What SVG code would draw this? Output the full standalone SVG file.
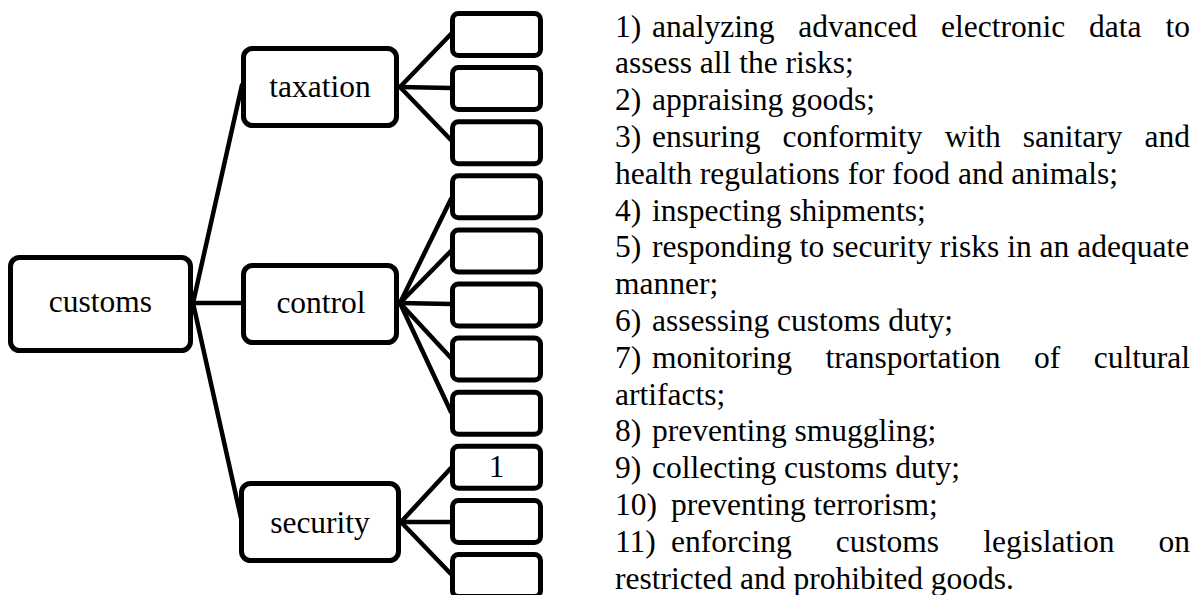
<svg xmlns="http://www.w3.org/2000/svg" width="1201" height="595" viewBox="0 0 1201 595">
<style>
.box{fill:#fff;stroke:#000;stroke-width:5}
.lbl{font-size:31.5px;fill:#000}
.mid{text-anchor:middle}
.con line{stroke:#000;stroke-width:4.5;stroke-linecap:round}
</style>
<rect width="1201" height="595" fill="#fff"/>
<g class="con" id="connectors">
<line x1="193" y1="303" x2="242" y2="85"/>
<line x1="193" y1="303" x2="242" y2="303"/>
<line x1="193" y1="303" x2="241" y2="518"/>
<line x1="400" y1="87" x2="451" y2="34"/>
<line x1="400" y1="87" x2="451" y2="88"/>
<line x1="400" y1="87" x2="451" y2="140"/>
<line x1="400" y1="303" x2="451" y2="199"/>
<line x1="400" y1="303" x2="451" y2="251"/>
<line x1="400" y1="303" x2="451" y2="304"/>
<line x1="400" y1="303" x2="451" y2="358"/>
<line x1="400" y1="303" x2="451" y2="412"/>
<line x1="401" y1="522" x2="451" y2="468"/>
<line x1="401" y1="522" x2="451" y2="522"/>
<line x1="401" y1="522" x2="451" y2="574"/>
</g>
<g font-family="'Liberation Serif', 'DejaVu Serif', serif">
<g id="customs"><rect class="box" x="10.5" y="257.5" width="180" height="93" rx="9"/><text class="lbl mid" x="100.5" y="312">customs</text></g>
<g id="taxation"><rect class="box" x="243.5" y="48.5" width="153" height="77" rx="9"/><text class="lbl mid" x="320" y="97">taxation</text></g>
<g id="control"><rect class="box" x="243.5" y="265.5" width="153" height="77" rx="9"/><text class="lbl mid" x="321" y="313">control</text></g>
<g id="security"><rect class="box" x="241.5" y="483.5" width="157" height="77" rx="9"/><text class="lbl mid" x="320" y="533">security</text></g>
<g id="b1"><rect class="box" x="452.5" y="13.5" width="88" height="42" rx="6"/></g>
<g id="b2"><rect class="box" x="452.5" y="67.6" width="88" height="42" rx="6"/></g>
<g id="b3"><rect class="box" x="452.5" y="121.7" width="88" height="42" rx="6"/></g>
<g id="b4"><rect class="box" x="452.5" y="175.8" width="88" height="42" rx="6"/></g>
<g id="b5"><rect class="box" x="452.5" y="229.9" width="88" height="42" rx="6"/></g>
<g id="b6"><rect class="box" x="452.5" y="284" width="88" height="42" rx="6"/></g>
<g id="b7"><rect class="box" x="452.5" y="338.1" width="88" height="42" rx="6"/></g>
<g id="b8"><rect class="box" x="452.5" y="392.2" width="88" height="42" rx="6"/></g>
<g id="b9"><rect class="box" x="452.5" y="446.3" width="88" height="42" rx="6"/><text class="lbl mid" x="496.5" y="477">1</text></g>
<g id="b10"><rect class="box" x="452.5" y="500.4" width="88" height="42" rx="6"/></g>
<g id="b11"><rect class="box" x="452.5" y="554.5" width="88" height="42" rx="6"/></g>
<g id="list" class="lbl">
<text y="36.5"><tspan x="615">1)</tspan><tspan x="652">analyzing</tspan><tspan x="798.3">advanced</tspan><tspan x="941.1">electronic</tspan><tspan x="1089.1">data</tspan><tspan x="1165.5">to</tspan></text>
<text y="73.3" x="615">assess all the risks;</text>
<text y="110.1"><tspan x="615">2)</tspan><tspan x="652">appraising goods;</tspan></text>
<text y="146.9"><tspan x="615">3)</tspan><tspan x="652">ensuring</tspan><tspan x="782.6">conformity</tspan><tspan x="944.7">with</tspan><tspan x="1022.8">sanitary</tspan><tspan x="1144.6">and</tspan></text>
<text y="183.7" x="615">health regulations for food and animals;</text>
<text y="220.5"><tspan x="615">4)</tspan><tspan x="652">inspecting shipments;</tspan></text>
<text y="257.3"><tspan x="615">5)</tspan><tspan x="652">responding to security risks in an adequate</tspan></text>
<text y="294.1" x="615">manner;</text>
<text y="330.9"><tspan x="615">6)</tspan><tspan x="652">assessing customs duty;</tspan></text>
<text y="367.7"><tspan x="615">7)</tspan><tspan x="652">monitoring</tspan><tspan x="825.5">transportation</tspan><tspan x="1034">of</tspan><tspan x="1093.7">cultural</tspan></text>
<text y="404.5" x="615">artifacts;</text>
<text y="441.3"><tspan x="615">8)</tspan><tspan x="652">preventing smuggling;</tspan></text>
<text y="478.1"><tspan x="615">9)</tspan><tspan x="652">collecting customs duty;</tspan></text>
<text y="514.9"><tspan x="615">10)</tspan><tspan x="671">preventing terrorism;</tspan></text>
<text y="551.7"><tspan x="615">11)</tspan><tspan x="671">enforcing</tspan><tspan x="835.8">customs</tspan><tspan x="983.2">legislation</tspan><tspan x="1158.6">on</tspan></text>
<text y="588.5" x="615">restricted and prohibited goods.</text>
</g>
</g>
</svg>
